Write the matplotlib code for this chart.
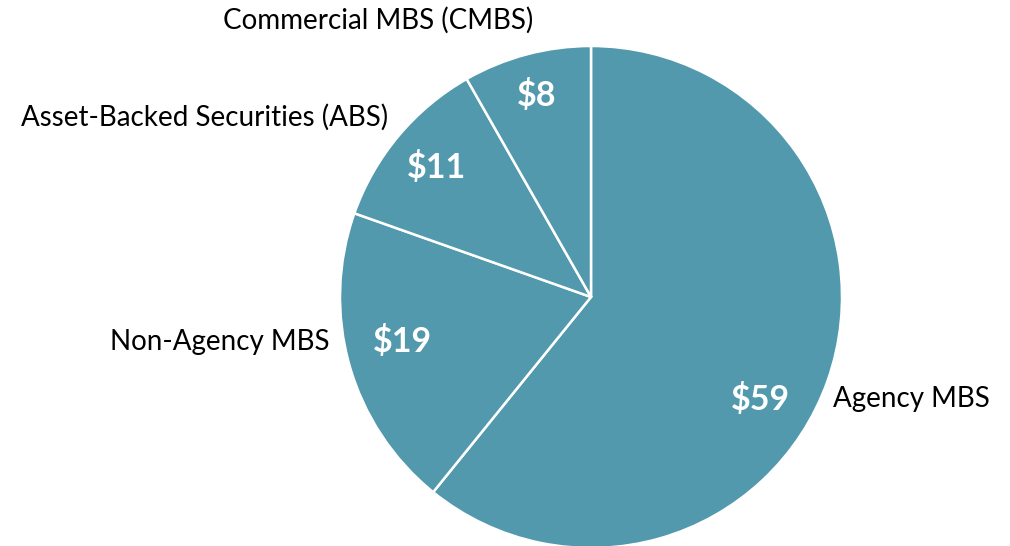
import matplotlib
matplotlib.use("Agg")
import matplotlib.pyplot as plt

categories = ["Agency MBS", "Non-Agency MBS", "Asset-Backed Securities (ABS)", "Commercial MBS (CMBS)"]
values = [59, 19, 11, 8]
value_labels = ["$59", "$19", "$11", "$8"]

color = "#5299AE"
plt.rcParams['font.family'] = ['Lato', 'DejaVu Sans']

fig = plt.figure(figsize=(10.10, 5.46), dpi=100)
ax = fig.add_axes([0, 0, 1, 1])

cx, cy, R = 591, 249, 251
wedges, _ = ax.pie(values, colors=[color] * len(values), startangle=90, counterclock=False,
                   center=(cx, cy), radius=R, frame=True,
                   wedgeprops=dict(edgecolor="white", linewidth=1.8))
ax.set_xlim(0, 1010)
ax.set_ylim(0, 546)
ax.set_aspect('equal')
ax.axis('off')

# value labels (inside)
val_pos = [(760, 147), (402, 204), (437, 378), (537, 451)]
for (x, y), lab in zip(val_pos, value_labels):
    ax.text(x, y, lab, color="white", fontsize=24.5, fontweight="bold", ha="center", va="center")

# category labels (outside)
cat_pos = [(833, 147, "left"), (330, 204, "right"), (388, 429, "right"), (533, 526, "right")]
for (x, y, ha), lab in zip(cat_pos, categories):
    ax.text(x, y, lab, color="black", fontsize=20, ha=ha, va="center")

fig.savefig("out.png", dpi=100)
